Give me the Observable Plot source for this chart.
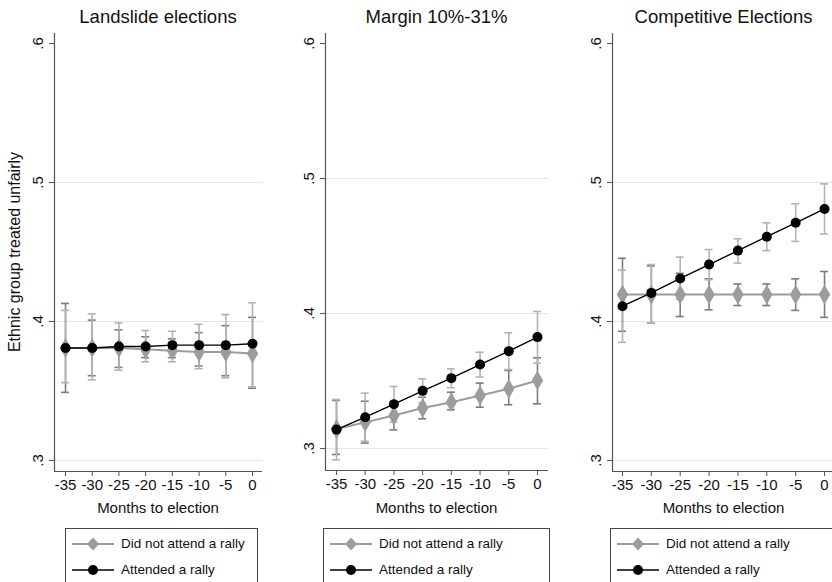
<!DOCTYPE html>
<html>
<head>
<meta charset="utf-8">
<script src="https://cdn.jsdelivr.net/npm/d3@7"></script>
<script src="https://cdn.jsdelivr.net/npm/@observablehq/plot@0.6"></script>
<style>
  html, body { margin: 0; padding: 0; background: #fff; }
  body { width: 832px; height: 582px; overflow: hidden; position: relative;
         font-family: "Liberation Sans", Arial, Helvetica, sans-serif; color: #111; }
  .abs { position: absolute; }
  .title { font-size: 18.5px; line-height: 24px; text-align: center; white-space: nowrap; }
  .xlab { font-size: 15px; line-height: 18px; text-align: center; white-space: nowrap; }
  .ylab { font-size: 16px; line-height: 18px; white-space: nowrap;
          transform: translate(-50%, -50%) rotate(-90deg); }
  .legend { border: 1px solid #444; background: #fff; box-sizing: border-box; }
  .lrow { position: absolute; left: 0; font-size: 13.5px; line-height: 16px; white-space: nowrap; }
  .lrow svg { position: absolute; left: 6px; top: -4px; }
  .lrow span { position: absolute; }
</style>
</head>
<body>
<script>
// ---------- data ----------
const months = [-35, -30, -25, -20, -15, -10, -5, 0];
const panelTitles = ["Landslide elections", "Margin 10%-31%", "Competitive Elections"];
const seriesNames = ["Did not attend a rally", "Attended a rally"];
const yTickValues = [0.3, 0.4, 0.5, 0.6];
const gridValues = [0.3, 0.4, 0.5];
const xAxisTitle = "Months to election";
const yAxisTitle = "Ethnic group treated unfairly";

// Landslide elections
const landNotMean = [0.381, 0.381, 0.381, 0.380, 0.379, 0.378, 0.378, 0.377];
const landNotLo   = [0.349, 0.361, 0.367, 0.374, 0.374, 0.368, 0.361, 0.352];
const landNotHi   = [0.413, 0.401, 0.394, 0.389, 0.3875, 0.392, 0.397, 0.403];
const landAttMean = [0.381, 0.381, 0.382, 0.382, 0.383, 0.383, 0.383, 0.384];
const landAttLo   = [0.356, 0.358, 0.365, 0.371, 0.371, 0.366, 0.3595, 0.353];
const landAttHi   = [0.408, 0.4055, 0.399, 0.3935, 0.393, 0.398, 0.405, 0.4135];

// Margin 10%-31%
const margNotMean = [0.3145, 0.3195, 0.3244, 0.330, 0.3343, 0.3393, 0.3442, 0.3504];
const margNotLo   = [0.2956, 0.304, 0.3138, 0.322, 0.3287, 0.3306, 0.3324, 0.3331];
const margNotHi   = [0.3356, 0.335, 0.335, 0.338, 0.3417, 0.3484, 0.3578, 0.3672];
const margAttMean = [0.314, 0.3232, 0.3328, 0.3427, 0.3521, 0.3622, 0.3721, 0.3825];
const margAttLo   = [0.2916, 0.3054, 0.3196, 0.3338, 0.345, 0.353, 0.3585, 0.3632];
const margAttHi   = [0.3363, 0.341, 0.346, 0.3516, 0.359, 0.3713, 0.3857, 0.4015];

// Competitive Elections
const compNotMean = [0.4194, 0.4194, 0.4194, 0.4194, 0.4194, 0.4194, 0.4194, 0.4194];
const compNotLo   = [0.393, 0.399, 0.4036, 0.4084, 0.4115, 0.4115, 0.408, 0.403];
const compNotHi   = [0.4455, 0.440, 0.4347, 0.4307, 0.427, 0.427, 0.4307, 0.436];
const compAttMean = [0.411, 0.4206, 0.431, 0.441, 0.451, 0.461, 0.471, 0.481];
const compAttLo   = [0.385, 0.399, 0.416, 0.430, 0.442, 0.451, 0.4576, 0.463];
const compAttHi   = [0.437, 0.441, 0.4463, 0.4518, 0.4595, 0.471, 0.4847, 0.499];

// ---------- styles ----------
const C = {
  notMarker: "#9c9c9c", notCI: "#7c7c7c",
  attMarker: "#000000", attCI: "#b3b3b3",
  axis: "#555555", grid: "#e4e4e4"
};

function rows(mean, lo, hi) {
  return months.map((m, i) => ({m, mean: mean[i], lo: lo[i], hi: hi[i]}));
}

const panels = [
  {title: panelTitles[0], left: 0, width: 280, mL: 54, mR: 18, mB: 29, x: [-37.06, 1.87], y: [0.2921, 0.6072],
   not: rows(landNotMean, landNotLo, landNotHi), att: rows(landAttMean, landAttLo, landAttHi)},
  {title: panelTitles[1], left: 280, width: 280, mL: 45, mR: 12, mB: 30, x: [-36.92, 1.92], y: [0.2837, 0.6074],
   not: rows(margNotMean, margNotLo, margNotHi), att: rows(margAttMean, margAttLo, margAttHi)},
  {title: panelTitles[2], left: 560, width: 280, mL: 52, mR: 5, mB: 29, x: [-36.73, 1.9], y: [0.2921, 0.6072],
   not: rows(compNotMean, compNotLo, compNotHi), att: rows(compAttMean, compAttLo, compAttHi)}
];

const H = 500, MT = 33;

panels.forEach((p, idx) => {
  const plotW = p.width - p.mL - p.mR;
  const cap = 4 * (p.x[1] - p.x[0]) / plotW; // half cap width in data units (~4px)
  const fmtY = d => d.toFixed(1).replace(/^0/, "");
  const chart = Plot.plot({
    width: p.width, height: H,
    marginLeft: p.mL, marginRight: p.mR, marginTop: MT, marginBottom: p.mB,
    style: {fontFamily: '"Liberation Sans", Arial, sans-serif', background: "transparent", overflow: "visible"},
    x: {domain: p.x},
    y: {domain: p.y},
    marks: [
      Plot.ruleY(gridValues, {stroke: C.grid, strokeWidth: 1}),
      // CI of "did not attend"
      Plot.ruleX(p.not, {x: "m", y1: "lo", y2: "hi", stroke: C.notCI, strokeWidth: 1.6}),
      Plot.ruleY(p.not, {y: "lo", x1: d => d.m - cap, x2: d => d.m + cap, stroke: C.notCI, strokeWidth: 1.6}),
      Plot.ruleY(p.not, {y: "hi", x1: d => d.m - cap, x2: d => d.m + cap, stroke: C.notCI, strokeWidth: 1.6}),
      // CI of "attended"
      Plot.ruleX(p.att, {x: "m", y1: "lo", y2: "hi", stroke: C.attCI, strokeWidth: 1.6}),
      Plot.ruleY(p.att, {y: "lo", x1: d => d.m - cap, x2: d => d.m + cap, stroke: C.attCI, strokeWidth: 1.6}),
      Plot.ruleY(p.att, {y: "hi", x1: d => d.m - cap, x2: d => d.m + cap, stroke: C.attCI, strokeWidth: 1.6}),
      // series lines & markers
      Plot.line(p.not, {x: "m", y: "mean", stroke: C.notMarker, strokeWidth: 2}),
      Plot.dot(p.not, {x: "m", y: "mean", symbol: "diamond", r: 6, fill: C.notMarker, stroke: "none"}),
      Plot.line(p.att, {x: "m", y: "mean", stroke: C.attMarker, strokeWidth: 1.4}),
      Plot.dot(p.att, {x: "m", y: "mean", symbol: "circle", r: 5, fill: C.attMarker, stroke: "none"}),
      // axes
      Plot.ruleX([p.x[0]], {stroke: C.axis, strokeWidth: 1.2}),
      Plot.ruleY([p.y[0]], {stroke: C.axis, strokeWidth: 1.2}),
      Plot.axisY({ticks: yTickValues, tickSize: 5, tickFormat: () => "", stroke: C.axis}),
      Plot.text(yTickValues, {y: d => d, text: fmtY, frameAnchor: "left", dx: -16, rotate: -90,
        textAnchor: "middle", lineAnchor: "middle", fontSize: 15, fill: "#111"}),
      Plot.axisX({ticks: months, tickSize: 5, tickPadding: 3, tickFormat: d => String(d),
        fontSize: 15, stroke: C.axis, fill: "#111", label: null})
    ]
  });
  chart.classList.add("abs");
  chart.style.left = p.left + "px";
  chart.style.top = "0px";
  document.body.appendChild(chart);

  const plotLeft = p.left + p.mL;
  // title
  const t = document.createElement("div");
  t.className = "abs title";
  t.textContent = p.title;
  t.style.left = plotLeft + "px"; t.style.width = plotW + "px"; t.style.top = "5px";
  document.body.appendChild(t);
  // x axis title
  const xl = document.createElement("div");
  xl.className = "abs xlab";
  xl.textContent = xAxisTitle;
  xl.style.left = plotLeft + "px"; xl.style.width = plotW + "px"; xl.style.top = "499px";
  document.body.appendChild(xl);

  // legend
  const lg = document.createElement("div");
  lg.className = "abs legend";
  const lgLeft = idx === 0 ? 65 : plotLeft - 2;
  const lgW = idx === 0 ? 193 : plotW + 4;
  lg.style.left = lgLeft + "px"; lg.style.top = "528px"; lg.style.width = lgW + "px"; lg.style.height = "64px";
  const entries = [
    {name: seriesNames[0], color: C.notMarker, sym: "diamond", lw: 2},
    {name: seriesNames[1], color: C.attMarker, sym: "circle", lw: 1.6}
  ];
  entries.forEach((e, k) => {
    const r = document.createElement("div");
    r.className = "lrow";
    r.style.top = (7 + k * 26) + "px";
    const sym = e.sym === "circle"
      ? `<circle cx="21" cy="12" r="5" fill="${e.color}"/>`
      : `<path d="M21 5.5 L27 12 L21 18.5 L15 12 Z" fill="${e.color}"/>`;
    r.innerHTML = `<svg width="44" height="24"><line x1="0" x2="42" y1="12" y2="12" stroke="${e.color}" stroke-width="${e.lw}"/>${sym}</svg><span style="left:55px;top:0">${e.name}</span>`;
    lg.appendChild(r);
  });
  document.body.appendChild(lg);
});

// y axis title (left panel only)
const yl = document.createElement("div");
yl.className = "abs ylab";
yl.textContent = yAxisTitle;
yl.style.left = "15px"; yl.style.top = "252px";
document.body.appendChild(yl);
</script>
</body>
</html>
